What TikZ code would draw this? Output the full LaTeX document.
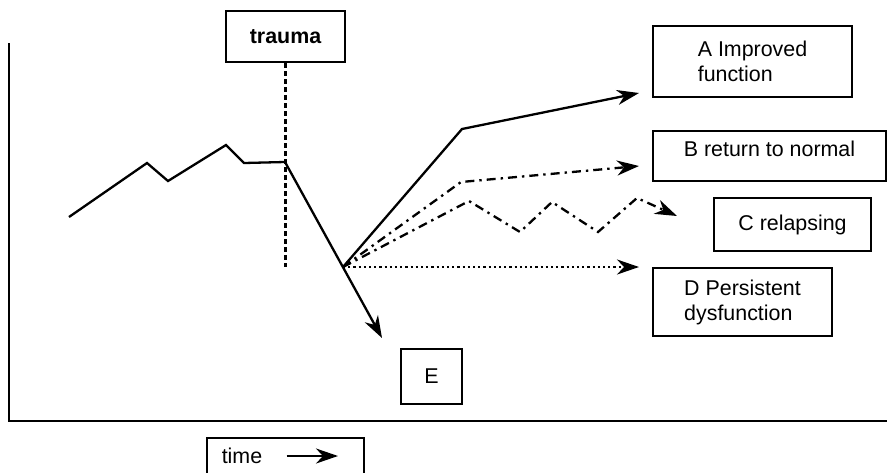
\documentclass[tikz,border=0pt]{standalone}
\usepackage{fontspec}
\setmainfont{Liberation Sans}
\usetikzlibrary{arrows.meta}

\tikzset{
  labelfont/.style={font=\fontsize{10.7}{12.5}\selectfont},
  outcome/.style={draw, line width=1.3pt, inner sep=0pt, align=left, labelfont},
  trend/.style={line width=1.15pt},
  tip/.style={-{Stealth[length=11pt,width=7.5pt,inset=3.5pt]}},
  dashdot/.style={dash pattern=on 4.5pt off 2.5pt on 1.2pt off 2.5pt},
}

\begin{document}
\begin{tikzpicture}[x=0.5pt, y=-0.5pt]
    \useasboundingbox (0,0) rectangle (887,472);
    \clip (0,0) rectangle (887,472);

        % draw axes
        \draw[line width=1.2pt] (9,43) -- (9,421) -- (887,421);

        % boxes
        \node[outcome, font=\fontsize{10.7}{12.5}\selectfont\bfseries, minimum width=59.5pt, minimum height=25.5pt] (trauma) at (285.5,36.5) {trauma};
        \node[outcome, minimum width=99.5pt, minimum height=35.5pt] (improved) at (752.5,61.5) {A Improved\\function};
        \node[outcome, minimum width=116.5pt, minimum height=25pt, text depth=7pt] (normal) at (769.5,156) {B return to normal};
        \node[outcome, minimum width=78.5pt, minimum height=26.5pt] (relapse) at (792.5,224.5) {C relapsing};
        \node[outcome, minimum width=89.5pt, minimum height=34pt] (persist) at (742.5,302) {D Persistent\\dysfunction};
        \node[outcome, minimum width=30.5pt, minimum height=27.5pt] (worse) at (431.5,376.5) {E};
        \node[outcome, minimum width=78.5pt, minimum height=20pt] (timebox) at (285.5,458) {};
        \node[labelfont, inner sep=0pt] (timelbl) at (242,456) {time};

        % points of the course
        \coordinate (onset) at (285,162);
        \coordinate (branch) at (343,267);
        \coordinate (atip) at (639,93);
        \coordinate (btip) at (639,166);
        \coordinate (ctip) at (677,216);
        \coordinate (dtip) at (639,267);
        \coordinate (etip) at (382,338);
        \coordinate (timetip) at (338,456);

        % course before trauma
        \draw[trend] (69,217) -- (147,163) -- (168,181) -- (226,145) -- (244,163) -- (onset);
        \draw[line width=1.2pt, dash pattern=on 2.4pt off 1.6pt] (trauma.south) -- (trauma.south |- branch);

        % outcomes
        \draw[trend, tip] (onset) -- (etip);
        \draw[trend, tip] (branch) -- (462,129) -- (atip);
        \draw[trend, dashdot, tip] (branch) -- (461,182) -- (btip);
        \draw[trend, dashdot, tip] (branch) -- (469,201) -- (520,232) -- (552,202) -- (598,232) -- (637,198) -- (ctip);
        \draw[trend, dash pattern=on 1.1pt off 1.5pt, tip] (branch) -- (dtip);

        \draw[trend, tip] ([xshift=12pt]timelbl.east) -- (timetip);
    \end{tikzpicture}
\end{document}
